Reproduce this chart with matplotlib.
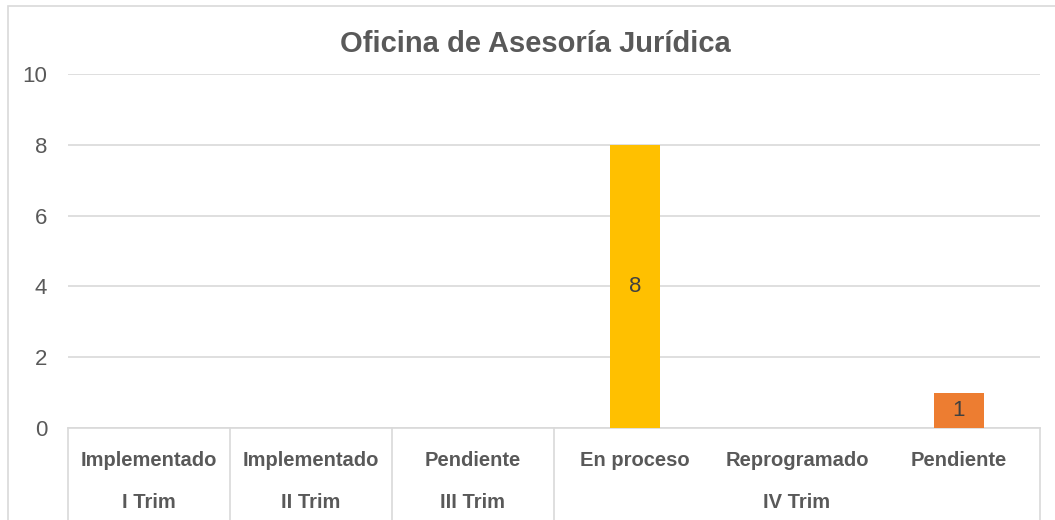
import matplotlib.pyplot as plt
import matplotlib.transforms as mtransforms
from matplotlib.patches import Rectangle

plt.rcParams['font.family'] = ['Liberation Sans', 'DejaVu Sans']

# datos
categorias = ['Implementado', 'Implementado', 'Pendiente', 'En proceso', 'Reprogramado', 'Pendiente']
trimestres = ['I Trim', 'II Trim', 'III Trim', 'IV Trim']
grupos = [1, 1, 1, 3]  # cuantas categorias por trimestre
valores = [0, 0, 0, 8, 0, 1]
colores = ['#FFC000', '#FFC000', '#FFC000', '#FFC000', '#ED7D31', '#ED7D31']

W, H = 1055, 520
fig = plt.figure(figsize=(W / 100, H / 100), dpi=100)
ax = fig.add_axes([68 / W, 92 / H, (1040 - 68) / W, (428 - 74) / H])

# borde del grafico
fig.patches.append(Rectangle((8 / W, -0.05), 1.1, 1 - 6 / H + 0.05, transform=fig.transFigure,
                             fill=False, edgecolor='#D9D9D9', lw=1.2))

x = list(range(len(categorias)))
ax.bar(x, valores, width=0.31, color=colores, zorder=3)
for xi, v in zip(x, valores):
    if v > 0:
        ax.text(xi, v / 2, str(v), ha='center', va='center', fontsize=16, color='#404040', zorder=4)

ax.set_xlim(-0.5, len(categorias) - 0.5)
ax.set_ylim(0, 10)
ax.set_yticks([0, 2, 4, 6, 8, 10])
ax.tick_params(axis='y', length=0, labelsize=16, labelcolor='#595959', pad=15)
ax.tick_params(axis='x', length=0, labelbottom=False)
ax.grid(axis='y', color='#D9D9D9', lw=1.2, zorder=0)
for s in ['top', 'right', 'left']:
    ax.spines[s].set_visible(False)
ax.spines['bottom'].set_color('#D9D9D9')
ax.spines['bottom'].set_linewidth(1.2)

# eje de categorias con dos niveles
trans = mtransforms.blended_transform_factory(ax.transData, ax.transAxes)
fondo = -92 / 354
fila1 = -(460 - 428) / 354
fila2 = -(503 - 428) / 354
for xi, c in zip(x, categorias):
    ax.text(xi, fila1, c, transform=trans, ha='center', va='center', fontsize=14.5,
            fontweight='bold', color='#595959')
inicio = 0
bordes = [-0.5]
for t, n in zip(trimestres, grupos):
    centro = inicio + (n - 1) / 2
    ax.text(centro, fila2, t, transform=trans, ha='center', va='center', fontsize=14.5,
            fontweight='bold', color='#595959')
    inicio += n
    bordes.append(inicio - 0.5)
for b in bordes:
    ax.plot([b, b], [0, fondo], transform=trans, color='#D9D9D9', lw=1.2, clip_on=False)

fig.text((338 + 732) / 2 / W, 1 - 44 / H, 'Oficina de Asesoría Jurídica', ha='center', va='center',
         fontsize=21, fontweight='bold', color='#595959')

fig.savefig('out.png', dpi=100)
